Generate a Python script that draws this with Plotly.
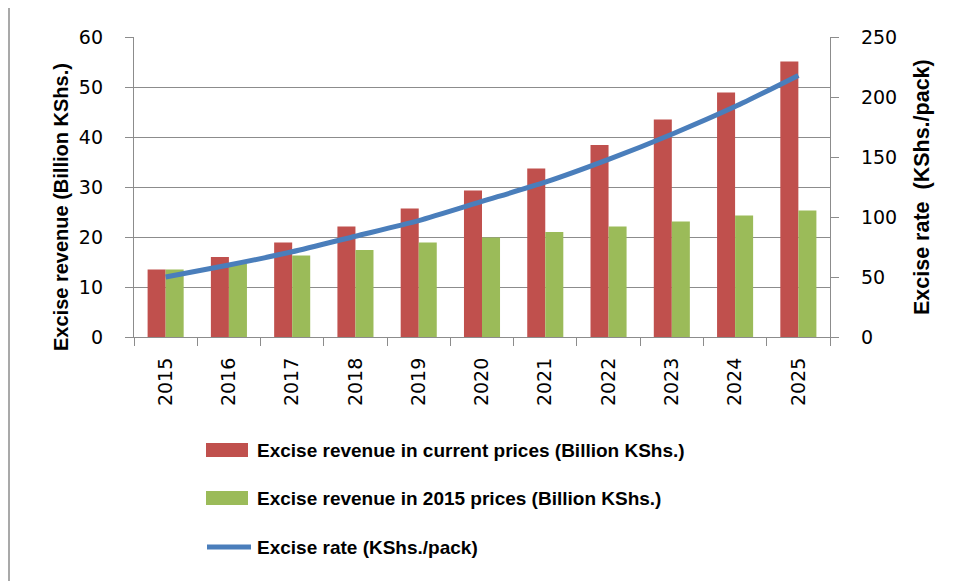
import plotly.graph_objects as go

years = ["2015", "2016", "2017", "2018", "2019", "2020", "2021", "2022", "2023", "2024", "2025"]
revenue_current = [13.5, 16.0, 18.9, 22.1, 25.7, 29.3, 33.7, 38.4, 43.5, 48.9, 55.1]
revenue_2015 = [13.5, 14.7, 16.3, 17.4, 18.9, 19.9, 21.0, 22.1, 23.1, 24.3, 25.3]
excise_rate = [50, 60, 71, 84, 97, 113, 129, 148, 169, 192, 218]

name_cur = "Excise revenue in current prices (Billion KShs.)"
name_2015 = "Excise revenue in 2015 prices (Billion KShs.)"
name_rate = "Excise rate (KShs./pack)"

RED = "#c0504d"
GREEN = "#9bbb59"
BLUE = "#4a7ebb"
GRID = "#8c8c8c"
TICKFONT = dict(family="DejaVu Sans", size=19, color="#000000")
TITLEFONT = dict(family="Liberation Sans", size=20, color="#000000")
TITLEFONT_R = dict(family="Liberation Sans", size=21.5, color="#000000")

fig = go.Figure()
fig.add_trace(go.Bar(x=years, y=revenue_current, name=name_cur, marker_color=RED,
                     marker_line=dict(width=0), showlegend=False))
fig.add_trace(go.Bar(x=years, y=revenue_2015, name=name_2015, marker_color=GREEN,
                     marker_line=dict(width=0), showlegend=False))
fig.add_trace(go.Scatter(x=years, y=excise_rate, name=name_rate, yaxis="y2", mode="lines",
                         line=dict(color=BLUE, width=5, shape="spline", smoothing=0.6),
                         showlegend=False))

# page body has an 8px default margin; compensate so the screenshot lines up
OFF = 8
W, H = 957 - OFF, 581 - OFF
PL, PR, PT, PB = 134, 830, 37, 337  # plot area in screenshot pixels
L, T = PL - OFF, PT - OFF
R = W - (PR - OFF)
B = H - (PB - OFF)
PW = PR - PL
PH = PB - PT


def px(x):
    return (x - PL) / PW


def py(y):
    return (PB - y) / PH


shapes = []
# outer chart border (left + top visible)
shapes.append(dict(type="line", xref="paper", yref="paper", x0=px(9), x1=px(9), y0=py(7), y1=py(600),
                   line=dict(color="#a0a0a0", width=1.8)))
shapes.append(dict(type="line", xref="paper", yref="paper", x0=px(9), x1=px(980), y0=py(7), y1=py(7),
                   line=dict(color="#a0a0a0", width=1.8)))

# custom legend
legend_rows = [(name_cur, RED, 450, "bar"), (name_2015, GREEN, 498, "bar"), (name_rate, BLUE, 547, "line")]
annotations = []
for text, color, yc, kind in legend_rows:
    if kind == "bar":
        shapes.append(dict(type="rect", xref="paper", yref="paper", x0=px(206), x1=px(248),
                           y0=py(yc - 7), y1=py(yc + 7), fillcolor=color, line=dict(width=0)))
    else:
        shapes.append(dict(type="line", xref="paper", yref="paper", x0=px(207), x1=px(251),
                           y0=py(yc), y1=py(yc), line=dict(color=color, width=5)))
    annotations.append(dict(text="<b>" + text + "</b>", xref="paper", yref="paper", x=px(255), y=py(yc),
                            xanchor="left", yanchor="middle", showarrow=False,
                            font=dict(family="Liberation Sans", size=19, color="#000000")))

annotations.append(dict(text="<b>Excise revenue (Billion KShs.)</b>", xref="paper", yref="paper",
                        x=px(61), y=py(207), textangle=-90, showarrow=False,
                        xanchor="center", yanchor="middle", font=TITLEFONT))
annotations.append(dict(text="<b>Excise rate  (KShs./pack)</b>", xref="paper", yref="paper",
                        x=px(922), y=py(187), textangle=-90, showarrow=False,
                        xanchor="center", yanchor="middle", font=TITLEFONT_R))

fig.update_layout(
    width=W, height=H,
    margin=dict(l=L, r=R, t=T, b=B, pad=0),
    paper_bgcolor="white", plot_bgcolor="white",
    barmode="group", bargap=0.43, bargroupgap=0,
    showlegend=False,
    xaxis=dict(type="category", tickangle=-90, tickfont=TICKFONT, showgrid=False,
               showline=True, linecolor=GRID, linewidth=1.3, ticks="outside", ticklen=8,
               tickcolor=GRID, tickwidth=1.3, tickson="boundaries", ticklabelstandoff=12,
               range=[-0.5, 10.5]),
    yaxis=dict(range=[0, 60], dtick=10, tickfont=TICKFONT, showgrid=True, gridcolor=GRID,
               gridwidth=1.3, showline=True, linecolor=GRID, linewidth=1.3, ticks="outside",
               ticklen=8, tickcolor=GRID, tickwidth=1.3, ticklabelstandoff=18, zeroline=False),
    yaxis2=dict(range=[0, 250], dtick=50, overlaying="y", side="right", tickfont=TICKFONT,
                showgrid=False, showline=True, linecolor=GRID, linewidth=1.3, ticks="outside",
                ticklen=8, tickcolor=GRID, tickwidth=1.3, ticklabelstandoff=18, zeroline=False),
    shapes=shapes,
    annotations=annotations,
)

fig.write_html("out.html")
